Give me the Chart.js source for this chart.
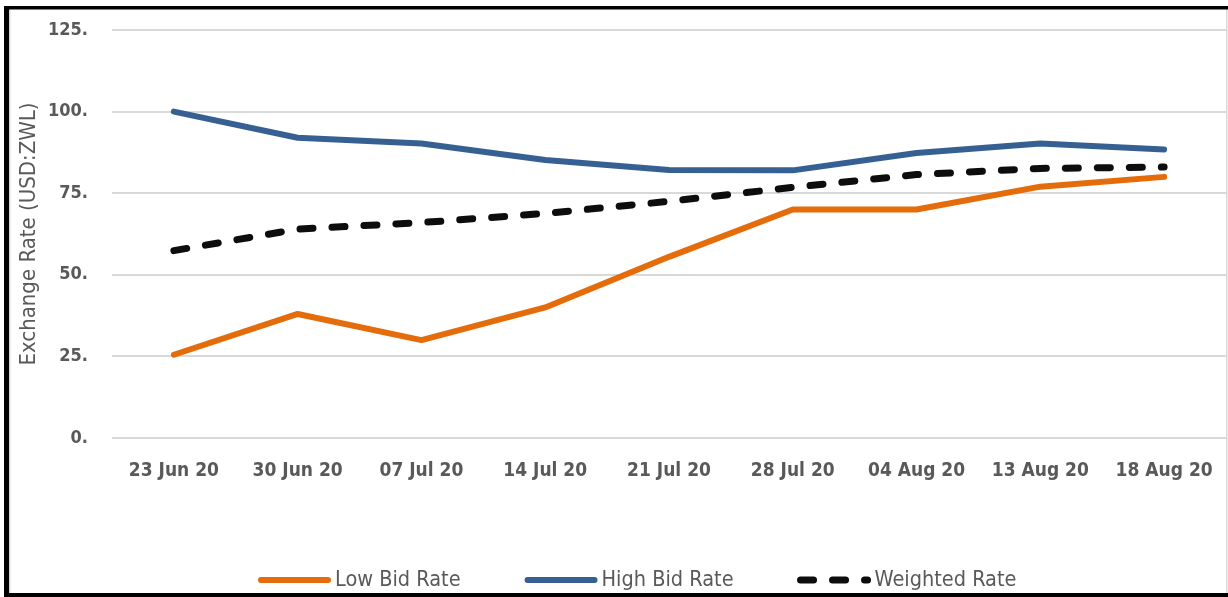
<!DOCTYPE html>
<html>
<head>
<meta charset="utf-8">
<script src="https://cdn.jsdelivr.net/npm/chart.js@4.4.0/dist/chart.umd.min.js"></script>
<style>
  html, body { margin: 0; padding: 0; background: #fff; }
  #grafico { display: block; }
</style>
</head>
<body>
<canvas id="grafico" width="1228" height="597"></canvas>
<script>
// Datos
const fechas = ["23 Jun 20", "30 Jun 20", "07 Jul 20", "14 Jul 20", "21 Jul 20", "28 Jul 20", "04 Aug 20", "13 Aug 20", "18 Aug 20"];
const tasaBaja = [25.5, 38, 30, 40, 55.5, 70, 70, 77, 80];
const tasaAlta = [100, 92, 90.2, 85.2, 82.1, 82, 87.3, 90.2, 88.4];
const tasaPonderada = [57.4, 64, 66, 68.8, 72.5, 76.8, 80.7, 82.6, 83];
const ticksY = [0, 25, 50, 75, 100, 125];

const nombres = ["Low Bid Rate", "High Bid Rate", "Weighted Rate"];
const colores = ["#e46c0a", "#376092", "#0d0d0d"];

const fuente = "'DejaVu Sans Condensed', 'DejaVu Sans', sans-serif";
const gris = "#595959";

// Marco negro y leyenda dibujada a mano
const marcoYLeyenda = {
  id: 'marcoYLeyenda',
  beforeDraw(chart) {
    const ctx = chart.ctx;
    ctx.save();
    ctx.fillStyle = '#fff';
    ctx.fillRect(0, 0, chart.width, chart.height);
    ctx.restore();
  },
  afterDraw(chart) {
    const ctx = chart.ctx;
    ctx.save();
    // bordes
    ctx.fillStyle = '#d9d9d9';
    ctx.fillRect(9, 9, 1.5, 584);
    ctx.fillRect(1226, 9, 1.5, 584);
    ctx.fillStyle = '#000';
    ctx.fillRect(4, 6, 1224, 3.5);
    ctx.fillRect(4, 6, 5, 591);
    ctx.fillRect(4, 593, 1224, 4);

    // leyenda
    ctx.font = `21.5px ${fuente}`;
    ctx.textBaseline = 'middle';
    ctx.textAlign = 'left';
    const yLeyenda = 580;
    let x = 258;
    chart.data.datasets.forEach((ds) => {
      ctx.beginPath();
      ctx.strokeStyle = ds.borderColor;
      ctx.lineWidth = ds.borderWidth;
      ctx.lineCap = 'round';
      ctx.setLineDash(ds.borderDash || []);
      ctx.moveTo(x + 3, yLeyenda);
      ctx.lineTo(x + 70, yLeyenda);
      ctx.stroke();
      ctx.setLineDash([]);
      ctx.fillStyle = gris;
      ctx.fillText(ds.label, x + 77, yLeyenda);
      x += 77 + ctx.measureText(ds.label).width + 64;
    });
    ctx.restore();
  }
};

function crearDataset(i, valores, dash) {
  return {
    label: nombres[i],
    data: valores,
    borderColor: colores[i],
    backgroundColor: colores[i],
    borderWidth: dash ? 7 : 6,
    borderDash: dash ? [13, 19] : [],
    borderCapStyle: 'round',
    borderJoinStyle: 'round',
    pointRadius: 0,
    tension: 0,
    fill: false
  };
}

new Chart(document.getElementById('grafico'), {
  type: 'line',
  data: {
    labels: fechas,
    datasets: [
      crearDataset(0, tasaBaja, false),
      crearDataset(1, tasaAlta, false),
      crearDataset(2, tasaPonderada, true)
    ]
  },
  options: {
    responsive: false,
    animation: false,
    layout: { padding: { left: 10, top: 30, right: 2, bottom: 0 } },
    plugins: {
      legend: { display: false },
      tooltip: { enabled: false }
    },
    scales: {
      x: {
        offset: true,
        afterFit: (axis) => {
          axis.height = 159;
          axis.paddingLeft = 0;
          axis.paddingRight = 0;
        },
        grid: { display: false, drawTicks: false },
        border: { display: false },
        ticks: {
          padding: 22,
          color: gris,
          autoSkip: false,
          maxRotation: 0,
          font: { family: fuente, size: 19, weight: 'bold' }
        }
      },
      y: {
        min: 0,
        max: 125,
        afterBuildTicks: (axis) => { axis.ticks = ticksY.map(v => ({ value: v })); },
        afterFit: (axis) => {
          axis.width = 102;
          axis.paddingTop = 0;
          axis.paddingBottom = 0;
        },
        border: { display: false },
        grid: { color: '#d9d9d9', lineWidth: 2, drawTicks: false },
        ticks: {
          padding: 24,
          color: gris,
          font: { family: fuente, size: 18, weight: 'bold' },
          callback: (v) => v + '.'
        },
        title: {
          display: true,
          text: 'Exchange Rate (USD:ZWL)',
          color: gris,
          font: { family: fuente, size: 22 },
          padding: { top: 6, bottom: 0 }
        }
      }
    }
  },
  plugins: [marcoYLeyenda]
});
</script>
</body>
</html>
